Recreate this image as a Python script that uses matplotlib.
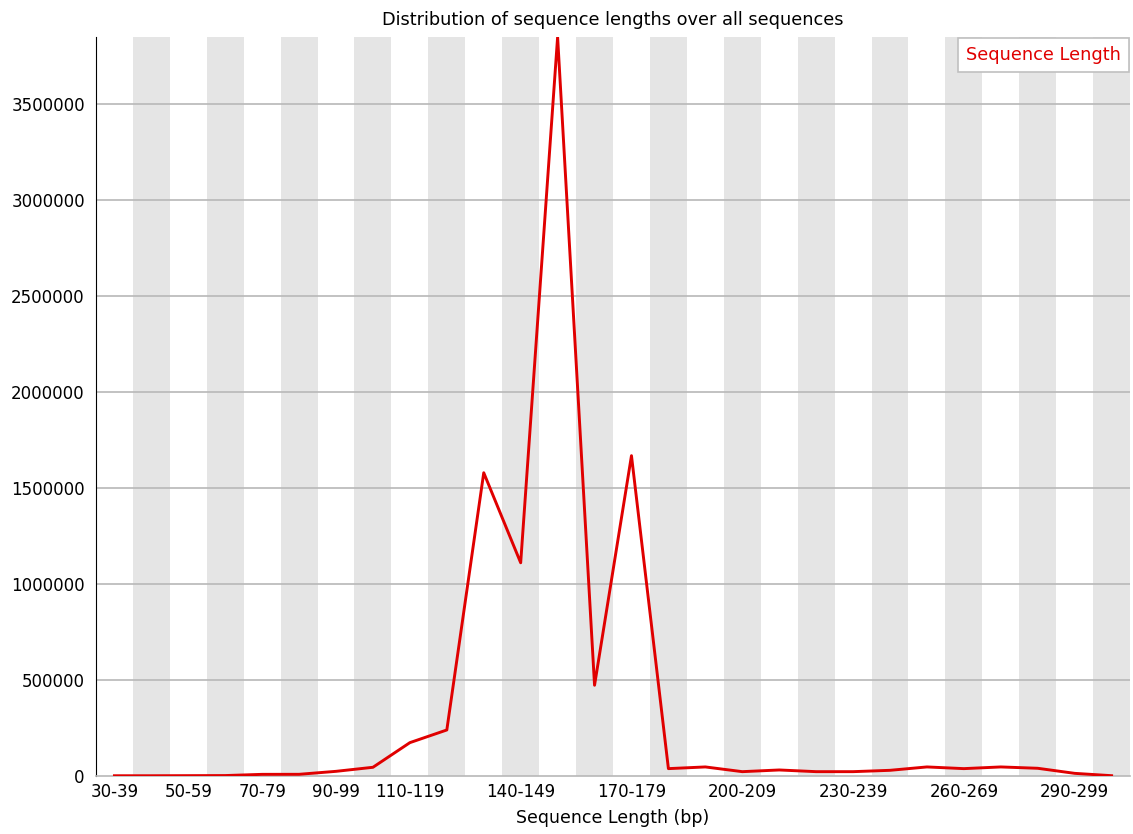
import numpy as np
import matplotlib.pyplot as plt

# length bins (bp) and read counts per bin
bins = ['30-39', '40-49', '50-59', '60-69', '70-79', '80-89', '90-99', '100-109',
        '110-119', '120-129', '130-139', '140-149', '150-159', '160-169', '170-179',
        '180-189', '190-199', '200-209', '210-219', '220-229', '230-239', '240-249',
        '250-259', '260-269', '270-279', '280-289', '290-299', '300-309']
counts = [1500, 1500, 2000, 2500, 8800, 9000, 24500, 45600,
          174000, 240000, 1580000, 1111000, 3850000, 473000, 1669000,
          38600, 47400, 22800, 31600, 22800, 22800, 29800,
          47400, 38600, 47400, 40400, 14000, 1800]
shown_labels = [0, 2, 4, 6, 8, 11, 14, 17, 20, 23, 26]
yticks = [0, 500000, 1000000, 1500000, 2000000, 2500000, 3000000, 3500000]

fig = plt.figure(figsize=(11.33, 8.34), dpi=100)
ax = fig.add_axes([0.0847, 0.0695, 0.9127, 0.8861])

x = np.arange(len(bins))
for i in x:
    if i % 2 == 1:
        ax.axvspan(i - 0.5, i + 0.5, color='#e5e5e5', lw=0, zorder=0)

for v in yticks[1:]:
    ax.axhline(v, color='#b8b8b8', lw=1.2, zorder=1)

ax.plot(x, counts, color='#e00000', lw=2.1, label='Sequence Length', zorder=3)

ax.set_xlim(-0.5, len(bins) - 0.5)
ax.set_ylim(0, max(counts))
ax.set_xticks(shown_labels)
ax.set_xticklabels([bins[i] for i in shown_labels], fontsize=12)
ax.set_yticks(yticks)
ax.set_yticklabels([str(v) for v in yticks], fontsize=12)
ax.tick_params(axis='x', length=0, pad=5)
ax.tick_params(axis='y', length=0, pad=8)

for s in ['top', 'right']:
    ax.spines[s].set_visible(False)
ax.spines['left'].set_color('black')
ax.spines['bottom'].set_color('#b8b8b8')
ax.spines['bottom'].set_linewidth(1.2)

ax.set_title('Distribution of sequence lengths over all sequences', fontsize=12.8, pad=9)
ax.set_xlabel('Sequence Length (bp)', fontsize=12.5, labelpad=6)

leg = ax.legend(loc='upper right', handlelength=0, handletextpad=0, fontsize=12.8,
                fancybox=False, framealpha=1, edgecolor='#c0c0c0',
                borderaxespad=0.05, borderpad=0.45)
leg.get_frame().set_linewidth(1.2)
for t in leg.get_texts():
    t.set_color('#e00000')
for h in leg.legend_handles:
    h.set_visible(False)

fig.savefig('out.png')
